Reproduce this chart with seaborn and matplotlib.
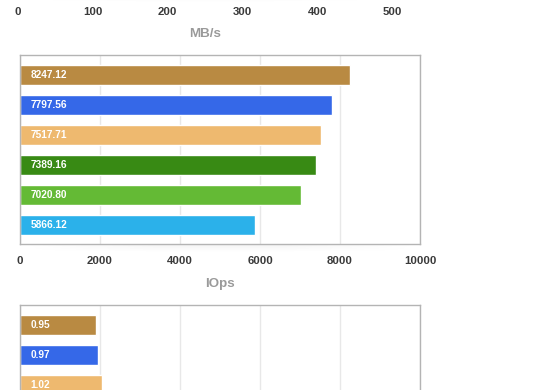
import numpy as np
import matplotlib
matplotlib.use("Agg")
import matplotlib.pyplot as plt
import seaborn as sns

# bar colours, same order in every panel
colors = ["#B98A42", "#3568E8", "#EEB96F", "#388A14", "#64BA35", "#2BB1EA"]

# top panel (only its x axis is visible in the crop)
mbs_ticks = [0, 100, 200, 300, 400, 500]

# middle panel: IOps
iops_names = ["r1", "r2", "r3", "r4", "r5", "r6"]
iops_values = [8247.12, 7797.56, 7517.71, 7389.16, 7020.80, 5866.12]
iops_labels = ["8247.12", "7797.56", "7517.71", "7389.16", "7020.80", "5866.12"]
iops_ticks = [0, 2000, 4000, 6000, 8000, 10000]

# bottom panel: only the first three bars are visible
lat_names = ["r1", "r2", "r3"]
lat_values = [0.95, 0.97, 1.02]
lat_labels = ["0.95", "0.97", "1.02"]
lat_ticks = [0, 1, 2, 3, 4, 5]

sns.set_theme(style="white")
plt.rcParams["font.family"] = ["Liberation Sans", "DejaVu Sans"]

W, H = 560, 390
fig = plt.figure(figsize=(W / 100, H / 100), dpi=100)


def px_axes(left, top, width, height, **kw):
    return fig.add_axes([left / W, (H - top - height) / H, width / W, height / H], **kw)


def add_shadow(left, top, width, height):
    # soft grey fade under a chart box
    sh = px_axes(left, top, width, height, zorder=-5)
    grad = np.linspace(1, 0, 20)[:, None] * np.ones((1, 60))
    edge = np.minimum(1, np.minimum(np.linspace(0, 3, 60), np.linspace(3, 0, 60)))
    rgba = np.zeros((20, 60, 4))
    rgba[..., :3] = 0.55
    rgba[..., 3] = 0.10 * grad * edge[None, :]
    sh.imshow(rgba, aspect="auto", extent=(0, 1, 0, 1))
    sh.axis("off")


def style_axes(ax, ticks, xmax, xlabel=None, show_ticks=True):
    ax.set_xlim(0, xmax)
    ax.set_ylim(5.63, -0.67)
    ax.set_xticks(ticks)
    ax.set_xticklabels([str(t) for t in ticks])
    ax.set_yticks([])
    ax.set_ylabel("")
    ax.grid(axis="x", color="#e8e8e8", linewidth=1)
    ax.set_axisbelow(True)
    ax.tick_params(axis="x", length=0, pad=9, labelsize=8.2, labelcolor="#3a3a3a",
                   labelbottom=show_ticks)
    for lab in ax.get_xticklabels():
        lab.set_fontweight("bold")
    for sp in ax.spines.values():
        sp.set_color("#b4b4b4")
        sp.set_linewidth(1)
    if xlabel:
        ax.set_xlabel(xlabel, fontsize=9.6, color="#9a9a9a", fontweight="bold", labelpad=8)
    else:
        ax.set_xlabel("")


def draw_bars(ax, names, values, labels):
    sns.barplot(x=values, y=names, hue=names, palette=colors[:len(names)],
                orient="h", width=0.667, legend=False, saturation=1, ax=ax)
    for i, lab in enumerate(labels):
        ax.annotate(lab, xy=(0, i), xytext=(7.5, 0), textcoords="offset points",
                    ha="left", va="center", color="white", fontsize=7.3,
                    fontweight="bold")


# top panel, sitting just above the visible area
add_shadow(22, -5.5, 366, 8)
ax_top = px_axes(17.5, -194.5, 375, 189)
style_axes(ax_top, mbs_ticks, 500, "MB/s")

# middle panel
add_shadow(22, 244, 396, 8)
ax_mid = px_axes(20, 55, 400, 189)
draw_bars(ax_mid, iops_names, iops_values, iops_labels)
style_axes(ax_mid, iops_ticks, 10000, "IOps")

# bottom panel, cut off by the figure edge
ax_bot = px_axes(20, 305, 400, 189)
draw_bars(ax_bot, lat_names, lat_values, lat_labels)
style_axes(ax_bot, lat_ticks, 5, show_ticks=False)

fig.savefig("out.png", dpi=100)
